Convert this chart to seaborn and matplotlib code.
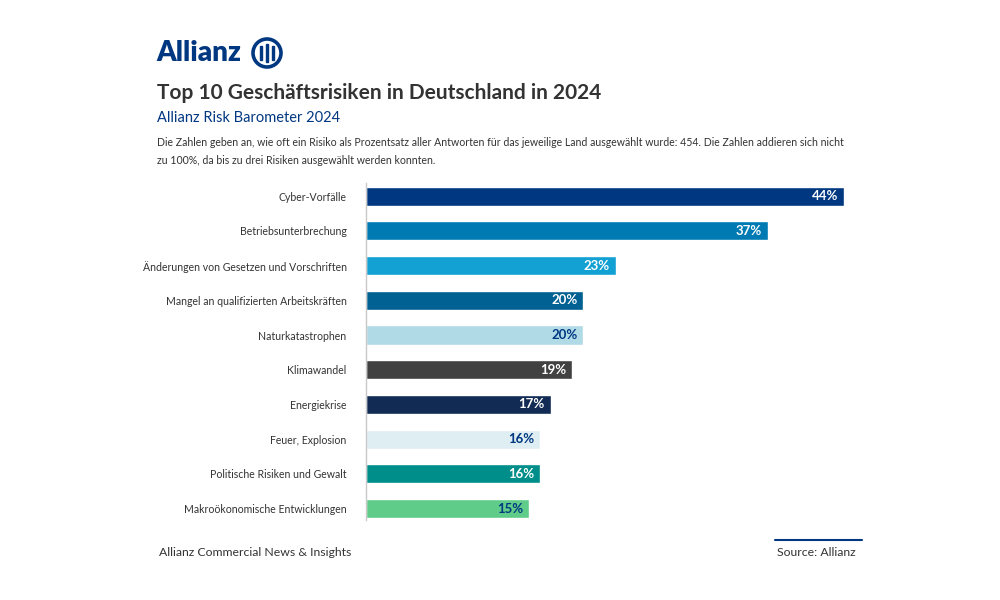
import matplotlib
matplotlib.use("Agg")
import matplotlib.pyplot as plt
import seaborn as sns
import pandas as pd
from matplotlib.patches import Ellipse, Rectangle
from matplotlib.lines import Line2D

categories = ["Cyber-Vorfälle", "Betriebsunterbrechung",
              "Änderungen von Gesetzen und Vorschriften",
              "Mangel an qualifizierten Arbeitskräften", "Naturkatastrophen",
              "Klimawandel", "Energiekrise", "Feuer, Explosion",
              "Politische Risiken und Gewalt", "Makroökonomische Entwicklungen"]
values = [44, 37, 23, 20, 20, 19, 17, 16, 16, 15]
bar_colors = ["#003781", "#007AB3", "#13A0D3", "#006192", "#B1DAE7",
              "#414141", "#122B54", "#DFEEF3", "#008E8A", "#5FCC8A"]
label_colors = ["white", "white", "white", "white", "#003781",
                "white", "white", "#003781", "white", "#003781"]

df = pd.DataFrame({"risk": categories, "value": values})

sns.set_theme(style="white")
plt.rcParams['font.family'] = ['Lato', 'DejaVu Sans']

fig = plt.figure(figsize=(10, 6), dpi=100)
ax = fig.add_axes([0.366, 0.1333, 0.478, 0.5617])

sns.barplot(data=df, x="value", y="risk", hue="risk", palette=bar_colors,
            legend=False, width=0.55, ax=ax, saturation=1, orient="h")

ax.set_xlim(0, 44)
ax.set_ylim(9.33, -0.38)
for i, (v, c) in enumerate(zip(values, label_colors)):
    ax.text(v - 0.55, i, f"{v}%", ha="right", va="center", color=c,
            fontsize=9.5, fontweight="bold")

ax.set_xlabel("")
ax.set_ylabel("")
ax.set_xticks([])
ax.tick_params(axis="y", length=0, pad=14, labelsize=7.6, labelcolor="#333333")
for s in ["top", "right", "bottom"]:
    ax.spines[s].set_visible(False)
ax.spines["left"].set_color("#c8c8c8")
ax.spines["left"].set_linewidth(1)

# Header
fig.text(0.156, 0.912, "Allianz", fontsize=20, fontweight="heavy",
         color="#003781", ha="left", va="center")
cx, cy, r = 267, 53, 14
fig.patches.append(Ellipse((cx / 1000, 1 - cy / 600), 2 * r / 1000, 2 * r / 600,
                           transform=fig.transFigure, fill=False,
                           edgecolor="#003781", linewidth=2.6))
for dx, h in [(-6, 13), (0, 18), (6, 13)]:
    fig.patches.append(Rectangle(((cx + dx - 1.3) / 1000, 1 - (cy + h / 2) / 600),
                                 2.6 / 1000, h / 600, transform=fig.transFigure,
                                 color="#003781"))

fig.text(0.157, 0.845, "Top 10 Geschäftsrisiken in Deutschland in 2024",
         fontsize=15, fontweight="bold", color="#333333", ha="left", va="center")
fig.text(0.157, 0.804, "Allianz Risk Barometer 2024", fontsize=10.5,
         color="#003781", ha="left", va="center")
fig.text(0.157, 0.763,
         "Die Zahlen geben an, wie oft ein Risiko als Prozentsatz aller Antworten für das jeweilige Land ausgewählt wurde: 454. Die Zahlen addieren sich nicht",
         fontsize=7.6, color="#333333", ha="left", va="center")
fig.text(0.157, 0.732, "zu 100%, da bis zu drei Risiken ausgewählt werden konnten.",
         fontsize=7.6, color="#333333", ha="left", va="center")

# Footer
fig.text(0.159, 0.080, "Allianz Commercial News & Insights", fontsize=8.8,
         color="#333333", ha="left", va="center")
fig.text(0.856, 0.080, "Source: Allianz", fontsize=8.8,
         color="#333333", ha="right", va="center")
fig.lines.append(Line2D([0.775, 0.862], [1 - 540 / 600, 1 - 540 / 600],
                        transform=fig.transFigure, color="#003781", linewidth=1.5))

fig.savefig("out.png", dpi=100, facecolor="white")
